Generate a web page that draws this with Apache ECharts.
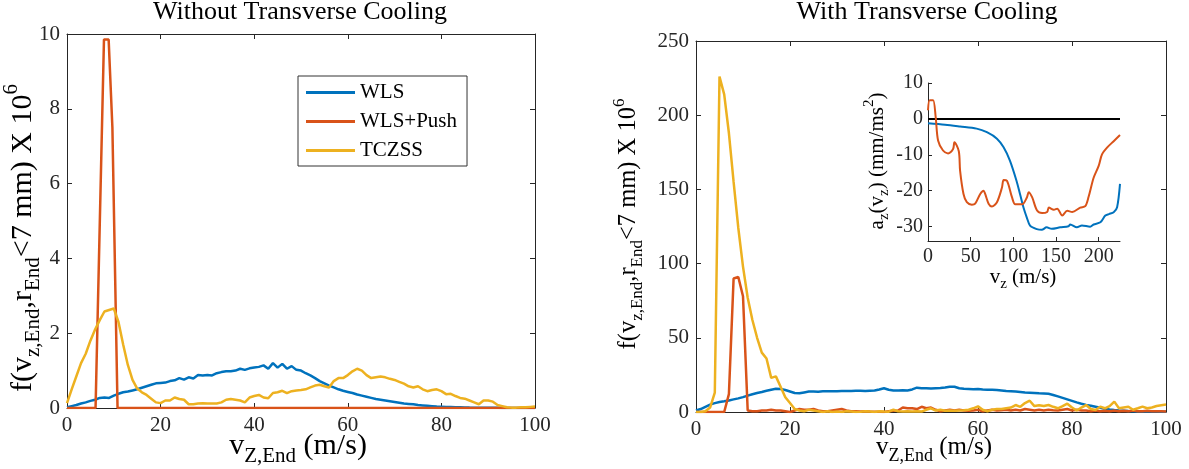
<!DOCTYPE html>
<html><head><meta charset="utf-8">
<script src="https://cdn.jsdelivr.net/npm/echarts@6/dist/echarts.min.js"></script>
<style>html,body{margin:0;padding:0;background:#fff}#c{width:1189px;height:469px}</style>
</head><body><div id="c"></div>
<script>
const FONT = 'Liberation Serif';
const AX = '#262626';
const C_WLS = '#0072BD', C_PUSH = '#D95319', C_TCZ = '#EDB120';

const legendNames = ['WLS', 'WLS+Push', 'TCZSS'];
const insetXTicks = [0, 50, 100, 150, 200];
const insetYTicks = [-30, -20, -10, 0, 10];

const vGrid = [0,1,2,3,4,5,6,7,8,9,10,11,12,13,14,15,16,17,18,19,20,21,22,23,24,25,26,27,28,29,30,31,32,33,34,35,36,37,38,39,40,41,42,43,44,45,46,47,48,49,50,51,52,53,54,55,56,57,58,59,60,61,62,63,64,65,66,67,68,69,70,71,72,73,74,75,76,77,78,79,80,81,82,83,84,85,86,87,88,89,90,91,92,93,94,95,96,97,98,99,100];

// Left panel: Without Transverse Cooling
const leftWLS = [0.02,0.05,0.08,0.12,0.15,0.19,0.22,0.27,0.28,0.27,
  0.33,0.38,0.42,0.44,0.47,0.50,0.54,0.58,0.62,0.66,
  0.67,0.68,0.72,0.74,0.80,0.76,0.82,0.79,0.88,0.87,
  0.88,0.87,0.93,0.96,0.98,0.98,1.00,1.05,1.02,1.06,
  1.08,1.10,1.14,1.05,1.20,1.08,1.18,1.05,1.12,1.02,
  1.00,0.93,0.87,0.80,0.72,0.66,0.60,0.55,0.50,0.46,
  0.43,0.40,0.36,0.33,0.30,0.27,0.24,0.22,0.20,0.18,
  0.16,0.14,0.12,0.11,0.10,0.08,0.07,0.06,0.05,0.04,
  0.035,0.03,0.025,0.02,0.018,0.015,0.012,0.01,0.01,0.008,
  0.006,0.005,0.004,0.003,0.002,0.002,0.001,0.001,0,0,0];
const leftTCZSS = [0.13,0.50,0.85,1.20,1.45,1.80,2.10,2.35,2.58,2.62,
  2.66,2.30,1.70,1.15,0.75,0.52,0.42,0.35,0.25,0.15,
  0.13,0.20,0.20,0.28,0.24,0.22,0.10,0.10,0.12,0.13,
  0.12,0.12,0.12,0.15,0.22,0.24,0.22,0.20,0.15,0.28,
  0.32,0.35,0.28,0.26,0.40,0.42,0.46,0.40,0.45,0.47,
  0.48,0.50,0.55,0.60,0.62,0.58,0.55,0.72,0.80,0.80,
  0.88,0.98,1.05,1.00,0.88,0.80,0.82,0.84,0.82,0.78,
  0.75,0.70,0.65,0.58,0.55,0.58,0.50,0.45,0.48,0.50,
  0.45,0.37,0.38,0.32,0.27,0.25,0.20,0.15,0.10,0.20,
  0.20,0.17,0.08,0.05,0.02,0.01,0.01,0.02,0.02,0.03,0.04];
const leftPushX = [0, 6.1, 7.9, 8.9, 9.7, 10.8, 100];
const leftPushY = [0, 0, 9.85, 9.85, 7.5, 0, 0];

// Right panel: With Transverse Cooling
const rightWLS = [1,2,3.5,5,6,6.7,7.2,7.8,8.5,9.2,
  10,11,12,12.8,13.5,14.3,15,15.6,15.5,14.8,
  13.8,12.8,12.6,13.2,13.8,13.8,13.7,13.9,14,14,
  14,14.1,14.2,14.2,14.3,14.3,14.2,14.4,14.5,15.2,
  16,15,14.5,14.5,14.6,14.5,15.2,16.4,16,16,
  15.8,16,16.2,16.5,17,17,16,15.6,15.5,15.3,
  15.5,15.2,15,15,14.8,14.5,14.2,14,13.8,13.5,
  13.2,13,12.8,12.6,12.5,12.3,11.5,10.5,9.5,8.5,
  7.5,6.5,5.6,4.8,4.2,3.5,2.8,2.2,1.7,1.3,
  1.0,0.8,0.6,0.5,0.4,0.4,0.3,0.3,0.3,0.2,0.2];
const rightPush = [0,0,0,0,0,0,0,12,90,91,
  78,1,0.5,0.5,1,1,1.5,1,1,0.5,
  0,1,2,1.5,1.5,2,1,0.5,0.5,1,
  1.5,2,1,0.5,0.5,0.3,0.5,0.3,0.2,0.2,
  0,0.5,0.8,1,3,2.5,2.5,2,3.5,2.5,
  3,1.5,0.5,1,1.5,1,1.5,1,0.8,1,
  1.5,0.5,1,1.5,1,1.2,1.5,1,1.5,1,
  2,1.5,1,1.5,1,1.5,1.2,1,1.5,2,
  1,1.5,1,1,0.5,1,0.5,0.8,0.5,1,
  0.5,0.8,0.5,1,0.5,0.5,0.8,0.5,0.5,0.5,0.3];
const rightTCZSS = [0,0,0.5,3,13,226,214,188,155,124,
  98,77,62,50,40,36,23,24,17,10,
  6,2,1,0.5,1.5,1,0.5,0,0.5,0,
  0.3,0,0.5,0.3,0,0.2,0.5,0.3,0,0.5,
  0.3,0.2,1.5,0.5,0.3,0.5,0.3,0.5,0.3,1.5,
  2.5,1,1.5,0.8,1,0.8,1,1.2,1.5,2.5,
  3.8,1.5,0.5,1.5,2,2,2.5,3,4.7,3.5,
  6,7.6,4,4.5,4,4.7,3.5,2.5,4,5.6,
  3,1,3,4.7,2,1.3,3.6,2.5,4,7,
  2.5,3,3.5,1.5,2.5,3.6,2.5,3,4,4.5,5];

// Inset: a_z(v_z)
const insetWLSX = [0,20,37.6,57,69,80.8,88.6,96,103.7,107.8,111.8,115.7,119.6,127.5,133.3,139,145,154.9,164.7,166.7,174.5,180.4,190,194.1,202,207.8,212,217.6,221.6,225];
const insetWLSY = [-1.2,-1.6,-2.1,-2.7,-3.7,-5.5,-7.9,-11.6,-17.2,-20.9,-24.6,-27.4,-29.7,-30.7,-30.9,-30.2,-30.6,-30.2,-29.9,-29.4,-30.2,-29.7,-30,-29.4,-28.8,-26.9,-26.5,-26,-24.6,-18.1];
const insetPushX = [0,2,6,9,11.8,17.6,23.5,29.4,31,36.1,37.6,41.6,45.5,51.4,55.3,61.2,65.1,67,71,74.9,80.8,86.7,88.6,92.5,98.4,102.3,110.2,116,118,122,127.8,133.7,139.6,141.6,147.5,151.4,157.3,163.1,169,178.4,184.3,188.2,194.1,200,203.9,209.8,217.6,225];
const insetPushY = [2.4,5.2,5.2,0.5,-6,-8.8,-9.6,-8.4,-6.5,-9,-14.4,-20.9,-23.2,-23.9,-23.6,-20.9,-20,-20.9,-23.6,-24.4,-23.2,-19.1,-17,-17.2,-21.8,-23.8,-23.8,-21.8,-20.4,-21.8,-25.5,-26.2,-25.9,-24.7,-25.3,-25,-26.9,-25.6,-25.9,-24.7,-24.3,-21.7,-16.4,-13.1,-9.9,-8,-6.2,-4.5];
const insetZeroX = [0, 225];
const insetZeroY = [0, 0];

const pairs = (xs, ys) => xs.map((x, i) => [x, ys[i]]);

function axisBase(extra) {
  return Object.assign({
    type: 'value',
    splitLine: { show: false },
    axisLine: { show: true, onZero: false, lineStyle: { color: AX, width: 1 } },
    axisTick: { show: true, inside: true, length: 5, lineStyle: { color: AX, width: 1 } },
    axisLabel: { color: AX, fontFamily: FONT, fontSize: 21, margin: 7 }
  }, extra);
}
function mirror(extra) {
  const a = axisBase(extra);
  a.axisLabel = { show: false };
  return a;
}

function lineSeries(name, xi, yi, data, color, width, extra) {
  return Object.assign({
    name: name, type: 'line', xAxisIndex: xi, yAxisIndex: yi, data: data,
    showSymbol: false, symbol: 'none', animation: false,
    itemStyle: { color: color }, lineStyle: { color: color, width: width },
    emphasis: { disabled: true }
  }, extra || {});
}

function rich(size, sub, color) {
  return {
    m: { fontSize: size, fontFamily: FONT, fill: color },
    s: { fontSize: sub, fontFamily: FONT, fill: color, padding: [Math.round(size * 0.7), 0, 0, 0] },
    p: { fontSize: sub, fontFamily: FONT, fill: color, padding: [0, 0, Math.round(size * 0.75), 0] }
  };
}
function textEl(x, y, text, size, sub, rot) {
  return {
    type: 'text', x: x, y: y, rotation: rot || 0, silent: true,
    style: { text: text, rich: rich(size, sub, '#000'), fontSize: size, fontFamily: FONT, fill: '#000', align: 'center', verticalAlign: 'middle' }
  };
}

const chart = echarts.init(document.getElementById('c'), null, { renderer: 'canvas' });
chart.setOption({
  animation: false,
  backgroundColor: '#fff',
  grid: [
    { left: 67, top: 34, width: 468, height: 374, containLabel: false },
    { left: 696, top: 41, width: 470, height: 371, containLabel: false },
    { left: 928, top: 83, width: 192, height: 158, containLabel: false }
  ],
  xAxis: [
    axisBase({ gridIndex: 0, min: 0, max: 100, interval: 20, position: 'bottom' }),
    mirror({ gridIndex: 0, min: 0, max: 100, interval: 20, position: 'top' }),
    axisBase({ gridIndex: 1, min: 0, max: 100, interval: 20, position: 'bottom' }),
    mirror({ gridIndex: 1, min: 0, max: 100, interval: 20, position: 'top' }),
    axisBase({ gridIndex: 2, min: 0, max: 225, position: 'bottom',
      axisTick: { show: true, inside: true, length: 4, customValues: insetXTicks, lineStyle: { color: AX, width: 1 } },
      axisLabel: { color: AX, fontFamily: FONT, fontSize: 20, margin: 6, customValues: insetXTicks } })
  ],
  yAxis: [
    axisBase({ gridIndex: 0, min: 0, max: 10, interval: 2, position: 'left' }),
    mirror({ gridIndex: 0, min: 0, max: 10, interval: 2, position: 'right' }),
    axisBase({ gridIndex: 1, min: 0, max: 250, interval: 50, position: 'left' }),
    mirror({ gridIndex: 1, min: 0, max: 250, interval: 50, position: 'right' }),
    axisBase({ gridIndex: 2, min: -34, max: 10, position: 'left',
      axisTick: { show: true, inside: true, length: 4, customValues: insetYTicks, lineStyle: { color: AX, width: 1 } },
      axisLabel: { color: AX, fontFamily: FONT, fontSize: 20, margin: 5, customValues: insetYTicks } })
  ],
  legend: {
    data: legendNames,
    orient: 'vertical', left: 298, top: 76,
    padding: [6, 10, 5, 8],
    itemWidth: 49, itemHeight: 3, itemGap: 8,
    icon: 'rect',
    borderColor: '#333', borderWidth: 1, backgroundColor: '#fff',
    textStyle: { fontFamily: FONT, fontSize: 21, color: '#000', lineHeight: 21 },
    selectedMode: false
  },
  series: [
    lineSeries('WLS', 0, 0, pairs(vGrid, leftWLS), C_WLS, 2.5),
    lineSeries('WLS+Push', 0, 0, pairs(leftPushX, leftPushY), C_PUSH, 2.5),
    lineSeries('TCZSS', 0, 0, pairs(vGrid, leftTCZSS), C_TCZ, 2.5),
    lineSeries('WLS', 2, 2, pairs(vGrid, rightWLS), C_WLS, 2.5),
    lineSeries('WLS+Push', 2, 2, pairs(vGrid, rightPush), C_PUSH, 2.5),
    lineSeries('TCZSS', 2, 2, pairs(vGrid, rightTCZSS), C_TCZ, 2.5),
    lineSeries('zero', 4, 4, pairs(insetZeroX, insetZeroY), '#000', 2),
    lineSeries('WLS', 4, 4, pairs(insetWLSX, insetWLSY), C_WLS, 2, { smooth: 0.3 }),
    lineSeries('WLS+Push', 4, 4, pairs(insetPushX, insetPushY), C_PUSH, 2, { smooth: 0.3 })
  ],
  graphic: [
    textEl(300, 12, '{m|Without Transverse Cooling}', 26, 18),
    textEl(927, 12, '{m|With Transverse Cooling}', 26, 18),
    textEl(298, 446, '{m|v}{s|Z,End}{m| (m/s)}', 30, 21),
    textEl(934, 447, '{m|v}{s|Z,End}{m| (m/s)}', 25, 18),
    textEl(23, 238, '{m|f(v}{s|z,End}{m|,r}{s|End}{m|<7 mm) X 10}{p|6}', 30, 21, Math.PI / 2),
    textEl(629, 224, '{m|f(v}{s|z,End}{m|,r}{s|End}{m|<7 mm) X 10}{p|6}', 24.5, 17, Math.PI / 2),
    textEl(877, 161, '{m|a}{s|z}{m|(v}{s|z}{m|) (mm/ms}{p|2}{m|)}', 21, 15, Math.PI / 2),
    textEl(1023, 277, '{m|v}{s|z}{m| (m/s)}', 21, 15)
  ]
});
</script>
</body></html>
